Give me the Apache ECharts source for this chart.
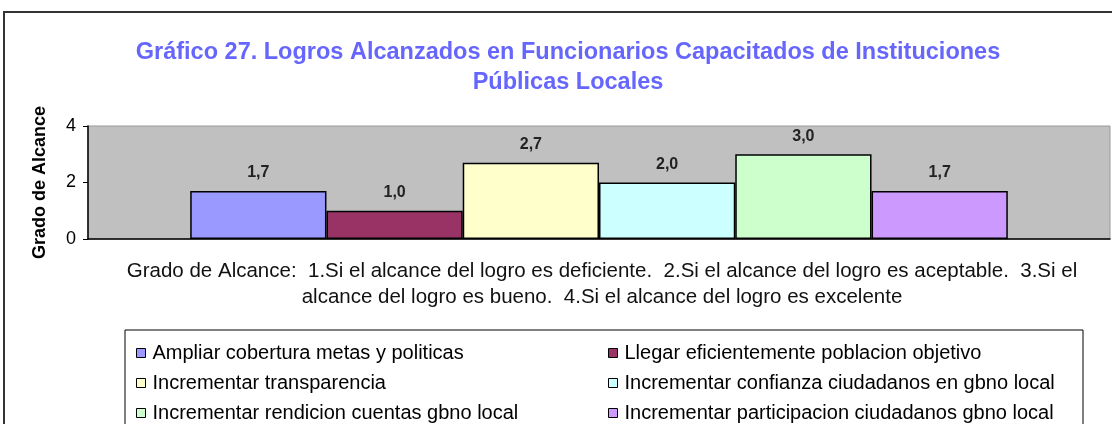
<!DOCTYPE html>
<html>
<head>
<meta charset="utf-8">
<script src="https://cdn.jsdelivr.net/npm/echarts@6/dist/echarts.min.js"></script>
<style>
  html, body { margin: 0; padding: 0; background: #fff; }
  #chart { width: 1112px; height: 424px; }
</style>
</head>
<body>
<div id="chart"></div>
<script>
  // datos del gráfico
  const categorias = ['Grado de Alcance']
  const seriesNombres = [
    'Ampliar cobertura metas y politicas',
    'Llegar eficientemente poblacion objetivo',
    'Incrementar transparencia',
    'Incrementar confianza ciudadanos en gbno local',
    'Incrementar rendicion cuentas gbno local',
    'Incrementar participacion ciudadanos gbno local'
  ]
  const valores = [1.7, 1.0, 2.7, 2.0, 3.0, 1.7]
  const colores = ['#9999FF', '#993366', '#FFFFCC', '#CCFFFF', '#CCFFCC', '#CC99FF']
  const yTicks = [0, 2, 4]

  const font = 'Arial, "Liberation Sans", sans-serif'
  const chart = echarts.init(document.getElementById('chart'))

  const series = seriesNombres.map((nombre, i) => ({
    name: nombre,
    type: 'bar',
    data: [valores[i]],
    barGap: '0%',
    barCategoryGap: '20%',
    itemStyle: { color: colores[i], borderColor: '#000', borderWidth: 1.5 },
    label: {
      show: true,
      position: 'top',
      distance: 10,
      formatter: p => p.value.toFixed(1).replace('.', ','),
      fontFamily: font,
      fontSize: 16,
      fontWeight: 'bold',
      color: '#222'
    }
  }))

  // leyenda: dos columnas, tres filas (una leyenda por elemento)
  const legendCols = [131, 603]
  const legendRows = [338, 368, 398]
  const legends = seriesNombres.map((nombre, i) => ({
    left: legendCols[i % 2],
    top: legendRows[Math.floor(i / 2)],
    itemWidth: 9,
    itemHeight: 9,
    icon: 'rect',
    selectedMode: false,
    data: [nombre],
    itemStyle: { borderColor: '#000', borderWidth: 1 },
    textStyle: { fontFamily: font, fontSize: 20, lineHeight: 20, color: '#000', padding: [0, 0, 0, 2] }
  }))

  const option = {
    animation: false,
    color: colores,
    title: {
      text: 'Gráfico 27. Logros Alcanzados en Funcionarios Capacitados de Instituciones\nPúblicas Locales',
      left: 563,
      top: 33,
      textAlign: 'center',
      textStyle: {
        fontFamily: font,
        fontSize: 23.5,
        fontWeight: 'bold',
        color: '#6666FF',
        lineHeight: 30
      }
    },
    legend: legends,
    grid: {
      left: 88,
      right: 2,
      top: 126,
      bottom: 185,
      show: true,
      backgroundColor: '#C0C0C0',
      borderColor: '#999',
      borderWidth: 1
    },
    xAxis: {
      type: 'category',
      data: categorias,
      axisLine: { lineStyle: { color: '#000', width: 1.5 } },
      axisTick: { show: false },
      axisLabel: { show: false }
    },
    yAxis: {
      type: 'value',
      min: yTicks[0],
      max: yTicks[yTicks.length - 1],
      interval: 2,
      name: 'Grado de Alcance',
      nameLocation: 'middle',
      nameRotate: 90,
      nameGap: 39,
      nameTextStyle: { fontFamily: font, fontSize: 18, fontWeight: 'bold', color: '#000' },
      axisLine: { show: true, lineStyle: { color: '#000', width: 1.5 } },
      axisTick: { show: true, inside: false, length: 5, lineStyle: { color: '#000' } },
      axisLabel: { fontFamily: font, fontSize: 18, color: '#000', margin: 12 },
      splitLine: { show: false }
    },
    graphic: [
      {
        type: 'rect',
        shape: { x: 4, y: 12, width: 1130, height: 430 },
        style: { fill: 'none', stroke: '#333', lineWidth: 2 }
      },
      {
        type: 'rect',
        shape: { x: 125, y: 330, width: 958, height: 110 },
        style: { fill: 'none', stroke: '#000', lineWidth: 1 }
      },
      {
        type: 'text',
        x: 602,
        y: 258,
        style: {
          text: 'Grado de Alcance:  1.Si el alcance del logro es deficiente.  2.Si el alcance del logro es aceptable.  3.Si el\nalcance del logro es bueno.  4.Si el alcance del logro es excelente',
          align: 'center',
          fontFamily: font,
          fontSize: 20.5,
          lineHeight: 26,
          fill: '#111'
        }
      }
    ],
    series: series
  }

  chart.setOption(option)
</script>
</body>
</html>
